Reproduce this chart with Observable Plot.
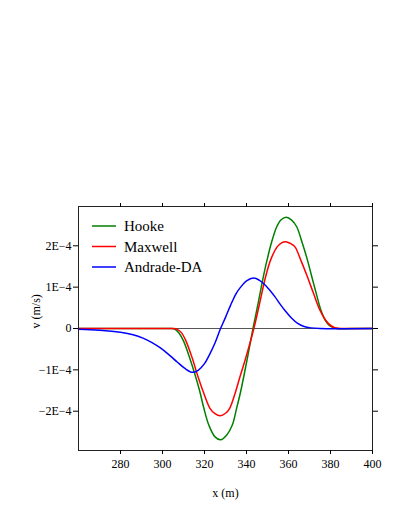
<!DOCTYPE html>
<html>
<head>
<meta charset="utf-8">
<script src="https://cdn.jsdelivr.net/npm/d3@7"></script>
<script src="https://cdn.jsdelivr.net/npm/@observablehq/plot@0.6"></script>
<style>
  html, body { margin: 0; padding: 0; background: #fff; }
  #chart { width: 399px; height: 516px; }
</style>
</head>
<body>
<div id="chart"></div>
<script>
// Series names and colours
const seriesNames = ["Hooke", "Maxwell", "Andrade-DA"];
const seriesColors = ["#008000", "#ff0000", "#0000ff"];

// Hooke (x in m, v in 1E-4 m/s)
const hookeX = [260, 280, 300, 304, 306, 308, 310, 313, 315.5, 317.8, 319.7, 322.1, 325, 327.7, 330.5, 333.2, 335.2, 337.2, 340.4, 343.1, 345.5, 348, 350, 351.8, 354.4, 356.5, 359, 361.5, 363.9, 366.6, 369, 371.1, 373.2, 375.4, 377.5, 380.1, 383, 390, 400];
const hookeV = [0, 0, 0, 0, -0.02, -0.12, -0.3, -0.72, -1.12, -1.53, -1.93, -2.34, -2.62, -2.69, -2.58, -2.34, -1.95, -1.53, -0.72, 0, 0.6, 1.25, 1.7, 2.06, 2.46, 2.63, 2.69, 2.62, 2.46, 2.06, 1.66, 1.25, 0.85, 0.45, 0.2, 0.05, 0, 0, 0];

// Maxwell
const maxwellX = [260, 300, 305, 307, 309, 311, 314.2, 316.5, 319.4, 322.6, 325, 327.5, 330, 332, 334.8, 337, 339.6, 343.5, 346, 349.1, 351.5, 354.7, 356.7, 358.7, 360.8, 363, 365.8, 369, 371.9, 374.9, 378.8, 382, 390, 400];
const maxwellV = [0, 0, 0, -0.02, -0.1, -0.28, -0.72, -1.1, -1.53, -1.93, -2.06, -2.11, -2.05, -1.93, -1.53, -1.15, -0.72, 0, 0.55, 1.25, 1.66, 1.98, 2.07, 2.10, 2.06, 1.98, 1.66, 1.25, 0.85, 0.45, 0.13, 0.02, 0, 0];

// Andrade-DA
const andradeX = [260, 270, 280, 286, 291, 295, 299, 303, 307, 310.5, 314.2, 317, 320, 322.1, 325, 327.5, 330, 332.4, 335, 337.2, 340, 343.3, 346, 348.5, 351, 353.5, 356, 358.7, 361.5, 364.2, 367.4, 370.6, 375, 400];
const andradeV = [-0.02, -0.04, -0.09, -0.15, -0.24, -0.34, -0.47, -0.63, -0.81, -0.96, -1.06, -1.01, -0.85, -0.66, -0.35, -0.02, 0.27, 0.56, 0.84, 1.0, 1.15, 1.22, 1.17, 1.07, 0.93, 0.77, 0.59, 0.41, 0.25, 0.13, 0.05, 0.015, 0, 0];

// Ticks
const xTicks = [280, 300, 320, 340, 360, 380, 400];
const yTicks = [-2e-4, -1e-4, 0, 1e-4, 2e-4];
const yTickLabels = ["\u22122E\u22124", "\u22121E\u22124", "0", "1E\u22124", "2E\u22124"];
const xDomain = [260, 400];
const yDomain = [-2.95e-4, 2.95e-4];
const xLabel = "x (m)";
const yLabel = "v (m/s)";

const SCALE = 1e-4;
const rows = [];
[[hookeX, hookeV], [maxwellX, maxwellV], [andradeX, andradeV]].forEach(([xs, vs], i) => {
  xs.forEach((x, j) => rows.push({series: seriesNames[i], x, v: vs[j] * SCALE}));
});

const font = "'Liberation Serif', 'DejaVu Serif', serif";
const marginLeft = 78, marginRight = 27, marginTop = 206, marginBottom = 66;

const chart = Plot.plot({
  width: 399,
  height: 516,
  marginLeft, marginRight, marginTop, marginBottom,
  style: {fontFamily: font, fontSize: "12px", color: "black", background: "white"},
  x: {domain: xDomain},
  y: {domain: yDomain},
  color: {domain: seriesNames, range: seriesColors},
  marks: [
    Plot.ruleY([0], {stroke: "#555", strokeWidth: 1}),
    Plot.line(rows, {x: "x", y: "v", z: "series", stroke: "series", strokeWidth: 1.5, curve: "catmull-rom"}),
    Plot.frame({stroke: "#222", strokeWidth: 1}),
    Plot.axisX({anchor: "bottom", ticks: xTicks, tickSize: 4, tickPadding: 5, label: null, tickFormat: d => String(d)}),
    Plot.axisX({anchor: "top", ticks: xTicks, tickSize: 4, label: null, tickFormat: () => ""}),
    Plot.axisY({anchor: "left", ticks: yTicks, tickSize: 5, tickPadding: 2, label: null,
      tickFormat: d => yTickLabels[yTicks.findIndex(t => Math.abs(t - d) < 1e-9)]}),
    Plot.axisY({anchor: "right", ticks: yTicks, tickSize: 5, label: null, tickFormat: () => ""}),
    Plot.text([xLabel], {frameAnchor: "bottom", dy: 46, text: d => d, fontSize: 12}),
    Plot.text([yLabel], {frameAnchor: "left", dx: -42, rotate: -90, text: d => d, fontSize: 12})
  ]
});

document.getElementById("chart").appendChild(chart);

// Legend inside the frame, top-left
const svg = d3.select(chart);
const lg = svg.append("g").attr("font-family", font).attr("font-size", 15).attr("text-anchor", "start");
seriesNames.forEach((name, i) => {
  const y = marginTop + 20 + i * 20.5;
  lg.append("line").attr("x1", marginLeft + 14).attr("x2", marginLeft + 38)
    .attr("y1", y).attr("y2", y).attr("stroke", seriesColors[i]).attr("stroke-width", 1.5);
  lg.append("text").attr("x", marginLeft + 46).attr("y", y).attr("dy", "0.35em")
    .attr("text-anchor", "start").attr("fill", "black").text(name);
});
</script>
</body>
</html>
